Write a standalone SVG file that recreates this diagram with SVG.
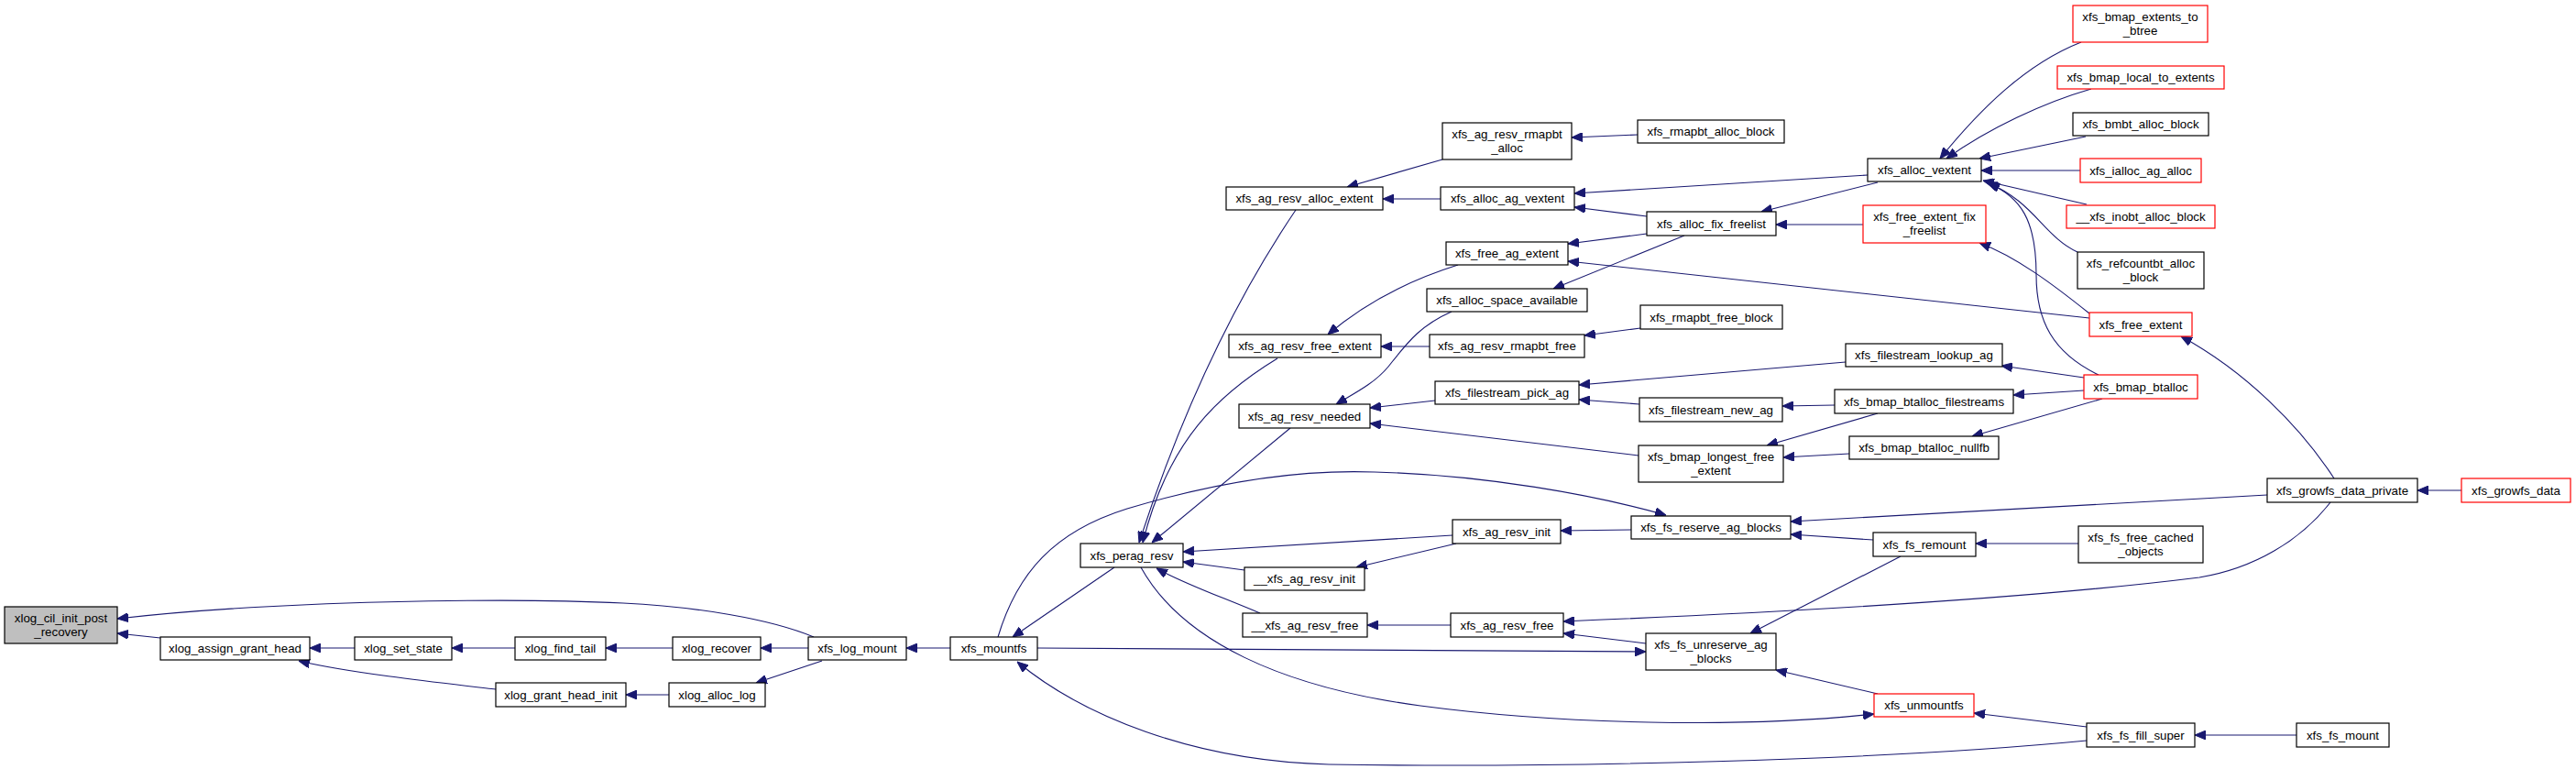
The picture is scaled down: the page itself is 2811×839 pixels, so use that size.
<svg xmlns="http://www.w3.org/2000/svg" width="2811" height="839" viewBox="0 0 2811 839">
<style>
.node rect{fill:#ffffff;stroke:#000000;stroke-width:1.2}
.node.red rect{stroke:#ff0000}
.node.root rect{fill:#bfbfbf}
.node text{font-family:"Liberation Sans",Arial,Helvetica,sans-serif;font-size:13.3px;text-anchor:middle;fill:#000000}
#edges path{fill:none;stroke:#191970;stroke-width:1.1;marker-end:url(#ah)}
</style>
<defs>
<marker id="ah" viewBox="0 0 12 10" refX="12" refY="5" markerWidth="12" markerHeight="10" markerUnits="userSpaceOnUse" orient="auto">
<path d="M0,0 L12,5 L0,10 z" fill="#191970" stroke="#191970" stroke-width="1"/>
</marker>
</defs>
<rect width="2811" height="839" fill="#ffffff"/>
<g id="edges">
<path d="M888,695 C840,675 760,662 680,658 C560,652 300,655 128,675"/>
<path d="M175,696 L128,691"/>
<path d="M387,707 L338,707"/>
<path d="M562,707 L493,707"/>
<path d="M541,752 C480,745 380,734 326,721"/>
<path d="M734,707 L661,707"/>
<path d="M730,758 L683,758"/>
<path d="M882,707 L830,707"/>
<path d="M897,721 L825,745"/>
<path d="M1037,707 L989,707"/>
<path d="M1216,619 L1105,695"/>
<path d="M1089,695 C1110,625 1150,580 1230,555 C1330,525 1420,512 1500,515 C1620,518 1740,540 1818,562"/>
<path d="M1132,707 L1796,711"/>
<path d="M2277,808 C2050,830 1700,838 1450,834 C1300,830 1180,780 1110,722"/>
<path d="M1245,619 C1290,700 1400,750 1550,770 C1700,790 1900,795 2045,779"/>
<path d="M1414,229 Q1312,380 1243,592"/>
<path d="M1394,391 C1330,430 1275,480 1247,592"/>
<path d="M1408,467 L1257,592"/>
<path d="M1585,584 L1291,602"/>
<path d="M1589,593 L1480,619"/>
<path d="M1358,622 L1291,613"/>
<path d="M1375,669 C1330,650 1290,636 1262,620"/>
<path d="M1583,682 L1492,682"/>
<path d="M1780,578 L1703,579"/>
<path d="M1796,702 L1706,691"/>
<path d="M2543,548 C2510,590 2460,620 2400,630 C2200,655 1900,670 1706,678"/>
<path d="M2044,589 L1954,583"/>
<path d="M2474,540 L1954,569"/>
<path d="M2268,593 L2156,593"/>
<path d="M2074,607 L1910,691"/>
<path d="M2049,757 L1938,731"/>
<path d="M2277,793 L2154,778"/>
<path d="M2506,802 L2395,802"/>
<path d="M2686,535 L2638,535"/>
<path d="M2547,522 C2510,465 2450,405 2380,367"/>
<path d="M2280,347 L1711,285"/>
<path d="M2280,342 C2240,310 2200,280 2160,265"/>
<path d="M2290,409 C2240,385 2222,350 2222,300 C2222,240 2205,215 2170,200"/>
<path d="M2267,275 C2230,258 2220,220 2168,199"/>
<path d="M2277,223 L2164,197"/>
<path d="M2270,186 L2162,186"/>
<path d="M2276,149 L2160,173"/>
<path d="M2282,97 C2230,112 2170,140 2124,173"/>
<path d="M2271,46 C2210,70 2160,120 2117,173"/>
<path d="M2038,191 L1718,211"/>
<path d="M2049,199 L1922,231"/>
<path d="M2033,245 L1938,245"/>
<path d="M1797,236 L1718,226"/>
<path d="M1797,255 L1711,266"/>
<path d="M1838,257 L1695,315"/>
<path d="M1591,289 C1540,305 1490,330 1449,365"/>
<path d="M1560,378 L1507,378"/>
<path d="M1790,358 L1729,366"/>
<path d="M1584,340 C1548,356 1535,375 1515,400 C1500,418 1480,428 1458,441"/>
<path d="M1566,437 L1495,445"/>
<path d="M1788,497 L1495,462"/>
<path d="M2014,395 L1723,420"/>
<path d="M1789,441 L1723,436"/>
<path d="M2274,412 L2184,399"/>
<path d="M2274,426 L2197,431"/>
<path d="M2294,435 L2152,476"/>
<path d="M2002,442 L1945,443"/>
<path d="M2049,451 L1928,486"/>
<path d="M2018,495 L1946,499"/>
<path d="M1787,147 L1715,150"/>
<path d="M1574,174 L1470,204"/>
<path d="M1572,217 L1509,217"/>
</g>
<g id="n_cil" class="node root"><rect x="5" y="662" width="123" height="40"/><text x="66.5" y="678.5">xlog_cil_init_post</text><text x="66.5" y="693.5">_recovery</text></g>
<g id="n_assign" class="node"><rect x="175" y="695" width="163" height="25"/><text x="256.5" y="712">xlog_assign_grant_head</text></g>
<g id="n_setstate" class="node"><rect x="387" y="695" width="106" height="25"/><text x="440" y="712">xlog_set_state</text></g>
<g id="n_findtail" class="node"><rect x="562" y="695" width="99" height="25"/><text x="611.5" y="712">xlog_find_tail</text></g>
<g id="n_grantinit" class="node"><rect x="541" y="745" width="142" height="26"/><text x="612" y="762.5">xlog_grant_head_init</text></g>
<g id="n_recover" class="node"><rect x="734" y="695" width="96" height="25"/><text x="782" y="712">xlog_recover</text></g>
<g id="n_alloclog" class="node"><rect x="730" y="745" width="105" height="26"/><text x="782.5" y="762.5">xlog_alloc_log</text></g>
<g id="n_logmount" class="node"><rect x="882" y="695" width="107" height="25"/><text x="935.5" y="712">xfs_log_mount</text></g>
<g id="n_mountfs" class="node"><rect x="1037" y="695" width="95" height="25"/><text x="1084.5" y="712">xfs_mountfs</text></g>
<g id="n_perag" class="node"><rect x="1179" y="593" width="112" height="26"/><text x="1235" y="610.5">xfs_perag_resv</text></g>
<g id="n_allocext" class="node"><rect x="1338" y="204" width="171" height="25"/><text x="1423.5" y="221">xfs_ag_resv_alloc_extent</text></g>
<g id="n_freeext" class="node"><rect x="1341" y="365" width="166" height="25"/><text x="1424" y="382">xfs_ag_resv_free_extent</text></g>
<g id="n_needed" class="node"><rect x="1352" y="441" width="143" height="26"/><text x="1423.5" y="458.5">xfs_ag_resv_needed</text></g>
<g id="n_uinit" class="node"><rect x="1358" y="619" width="131" height="25"/><text x="1423.5" y="636">__xfs_ag_resv_init</text></g>
<g id="n_ufree" class="node"><rect x="1356" y="669" width="136" height="26"/><text x="1424" y="686.5">__xfs_ag_resv_free</text></g>
<g id="n_rmapalloc" class="node"><rect x="1574" y="134" width="141" height="40"/><text x="1644.5" y="150.5">xfs_ag_resv_rmapbt</text><text x="1644.5" y="165.5">_alloc</text></g>
<g id="n_agvextent" class="node"><rect x="1572" y="204" width="146" height="25"/><text x="1645" y="221">xfs_alloc_ag_vextent</text></g>
<g id="n_freeagext" class="node"><rect x="1578" y="264" width="133" height="25"/><text x="1644.5" y="281">xfs_free_ag_extent</text></g>
<g id="n_spaceavail" class="node"><rect x="1557" y="315" width="175" height="25"/><text x="1644.5" y="332">xfs_alloc_space_available</text></g>
<g id="n_rmapfree" class="node"><rect x="1560" y="365" width="169" height="25"/><text x="1644.5" y="382">xfs_ag_resv_rmapbt_free</text></g>
<g id="n_pickag" class="node"><rect x="1566" y="416" width="157" height="25"/><text x="1644.5" y="433">xfs_filestream_pick_ag</text></g>
<g id="n_resvinit" class="node"><rect x="1585" y="567" width="118" height="26"/><text x="1644" y="584.5">xfs_ag_resv_init</text></g>
<g id="n_resvfree" class="node"><rect x="1583" y="669" width="123" height="26"/><text x="1644.5" y="686.5">xfs_ag_resv_free</text></g>
<g id="n_rmapallocblk" class="node"><rect x="1787" y="131" width="160" height="25"/><text x="1867" y="148">xfs_rmapbt_alloc_block</text></g>
<g id="n_vextent" class="node"><rect x="2038" y="173" width="124" height="25"/><text x="2100" y="190">xfs_alloc_vextent</text></g>
<g id="n_fixfree" class="node"><rect x="1797" y="231" width="141" height="26"/><text x="1867.5" y="248.5">xfs_alloc_fix_freelist</text></g>
<g id="n_freefix" class="node red"><rect x="2033" y="224" width="134" height="41"/><text x="2100" y="240.5">xfs_free_extent_fix</text><text x="2100" y="255.5">_freelist</text></g>
<g id="n_rmapfreeblk" class="node"><rect x="1790" y="333" width="155" height="26"/><text x="1867.5" y="350.5">xfs_rmapbt_free_block</text></g>
<g id="n_lookup" class="node"><rect x="2014" y="375" width="171" height="25"/><text x="2099.5" y="392">xfs_filestream_lookup_ag</text></g>
<g id="n_newag" class="node"><rect x="1789" y="434" width="156" height="26"/><text x="1867" y="451.5">xfs_filestream_new_ag</text></g>
<g id="n_btfs" class="node"><rect x="2002" y="425" width="195" height="26"/><text x="2099.5" y="442.5">xfs_bmap_btalloc_filestreams</text></g>
<g id="n_nullfb" class="node"><rect x="2018" y="476" width="163" height="25"/><text x="2099.5" y="493">xfs_bmap_btalloc_nullfb</text></g>
<g id="n_longest" class="node"><rect x="1788" y="486" width="158" height="40"/><text x="1867" y="502.5">xfs_bmap_longest_free</text><text x="1867" y="517.5">_extent</text></g>
<g id="n_reserve" class="node"><rect x="1780" y="563" width="174" height="25"/><text x="1867" y="580">xfs_fs_reserve_ag_blocks</text></g>
<g id="n_unreserve" class="node"><rect x="1796" y="691" width="142" height="40"/><text x="1867" y="707.5">xfs_fs_unreserve_ag</text><text x="1867" y="722.5">_blocks</text></g>
<g id="n_remount" class="node"><rect x="2044" y="581" width="112" height="26"/><text x="2100" y="598.5">xfs_fs_remount</text></g>
<g id="n_unmountfs" class="node red"><rect x="2045" y="757" width="109" height="25"/><text x="2099.5" y="774">xfs_unmountfs</text></g>
<g id="n_e2b" class="node red"><rect x="2262" y="6" width="147" height="40"/><text x="2335.5" y="22.5">xfs_bmap_extents_to</text><text x="2335.5" y="37.5">_btree</text></g>
<g id="n_l2e" class="node red"><rect x="2245" y="72" width="182" height="25"/><text x="2336" y="89">xfs_bmap_local_to_extents</text></g>
<g id="n_bmbt" class="node"><rect x="2262" y="123" width="148" height="25"/><text x="2336" y="140">xfs_bmbt_alloc_block</text></g>
<g id="n_ialloc" class="node red"><rect x="2270" y="173" width="132" height="26"/><text x="2336" y="190.5">xfs_ialloc_ag_alloc</text></g>
<g id="n_inobt" class="node red"><rect x="2255" y="224" width="162" height="25"/><text x="2336" y="241">__xfs_inobt_alloc_block</text></g>
<g id="n_refc" class="node"><rect x="2267" y="275" width="138" height="40"/><text x="2336" y="291.5">xfs_refcountbt_alloc</text><text x="2336" y="306.5">_block</text></g>
<g id="n_freeextent" class="node red"><rect x="2280" y="341" width="112" height="26"/><text x="2336" y="358.5">xfs_free_extent</text></g>
<g id="n_btalloc" class="node red"><rect x="2274" y="409" width="124" height="26"/><text x="2336" y="426.5">xfs_bmap_btalloc</text></g>
<g id="n_freecached" class="node"><rect x="2268" y="574" width="136" height="40"/><text x="2336" y="590.5">xfs_fs_free_cached</text><text x="2336" y="605.5">_objects</text></g>
<g id="n_fillsuper" class="node"><rect x="2277" y="789" width="118" height="26"/><text x="2336" y="806.5">xfs_fs_fill_super</text></g>
<g id="n_growpriv" class="node"><rect x="2474" y="522" width="164" height="26"/><text x="2556" y="539.5">xfs_growfs_data_private</text></g>
<g id="n_growdata" class="node red"><rect x="2686" y="522" width="119" height="26"/><text x="2745.5" y="539.5">xfs_growfs_data</text></g>
<g id="n_fsmount" class="node"><rect x="2506" y="789" width="101" height="26"/><text x="2556.5" y="806.5">xfs_fs_mount</text></g>
</svg>
